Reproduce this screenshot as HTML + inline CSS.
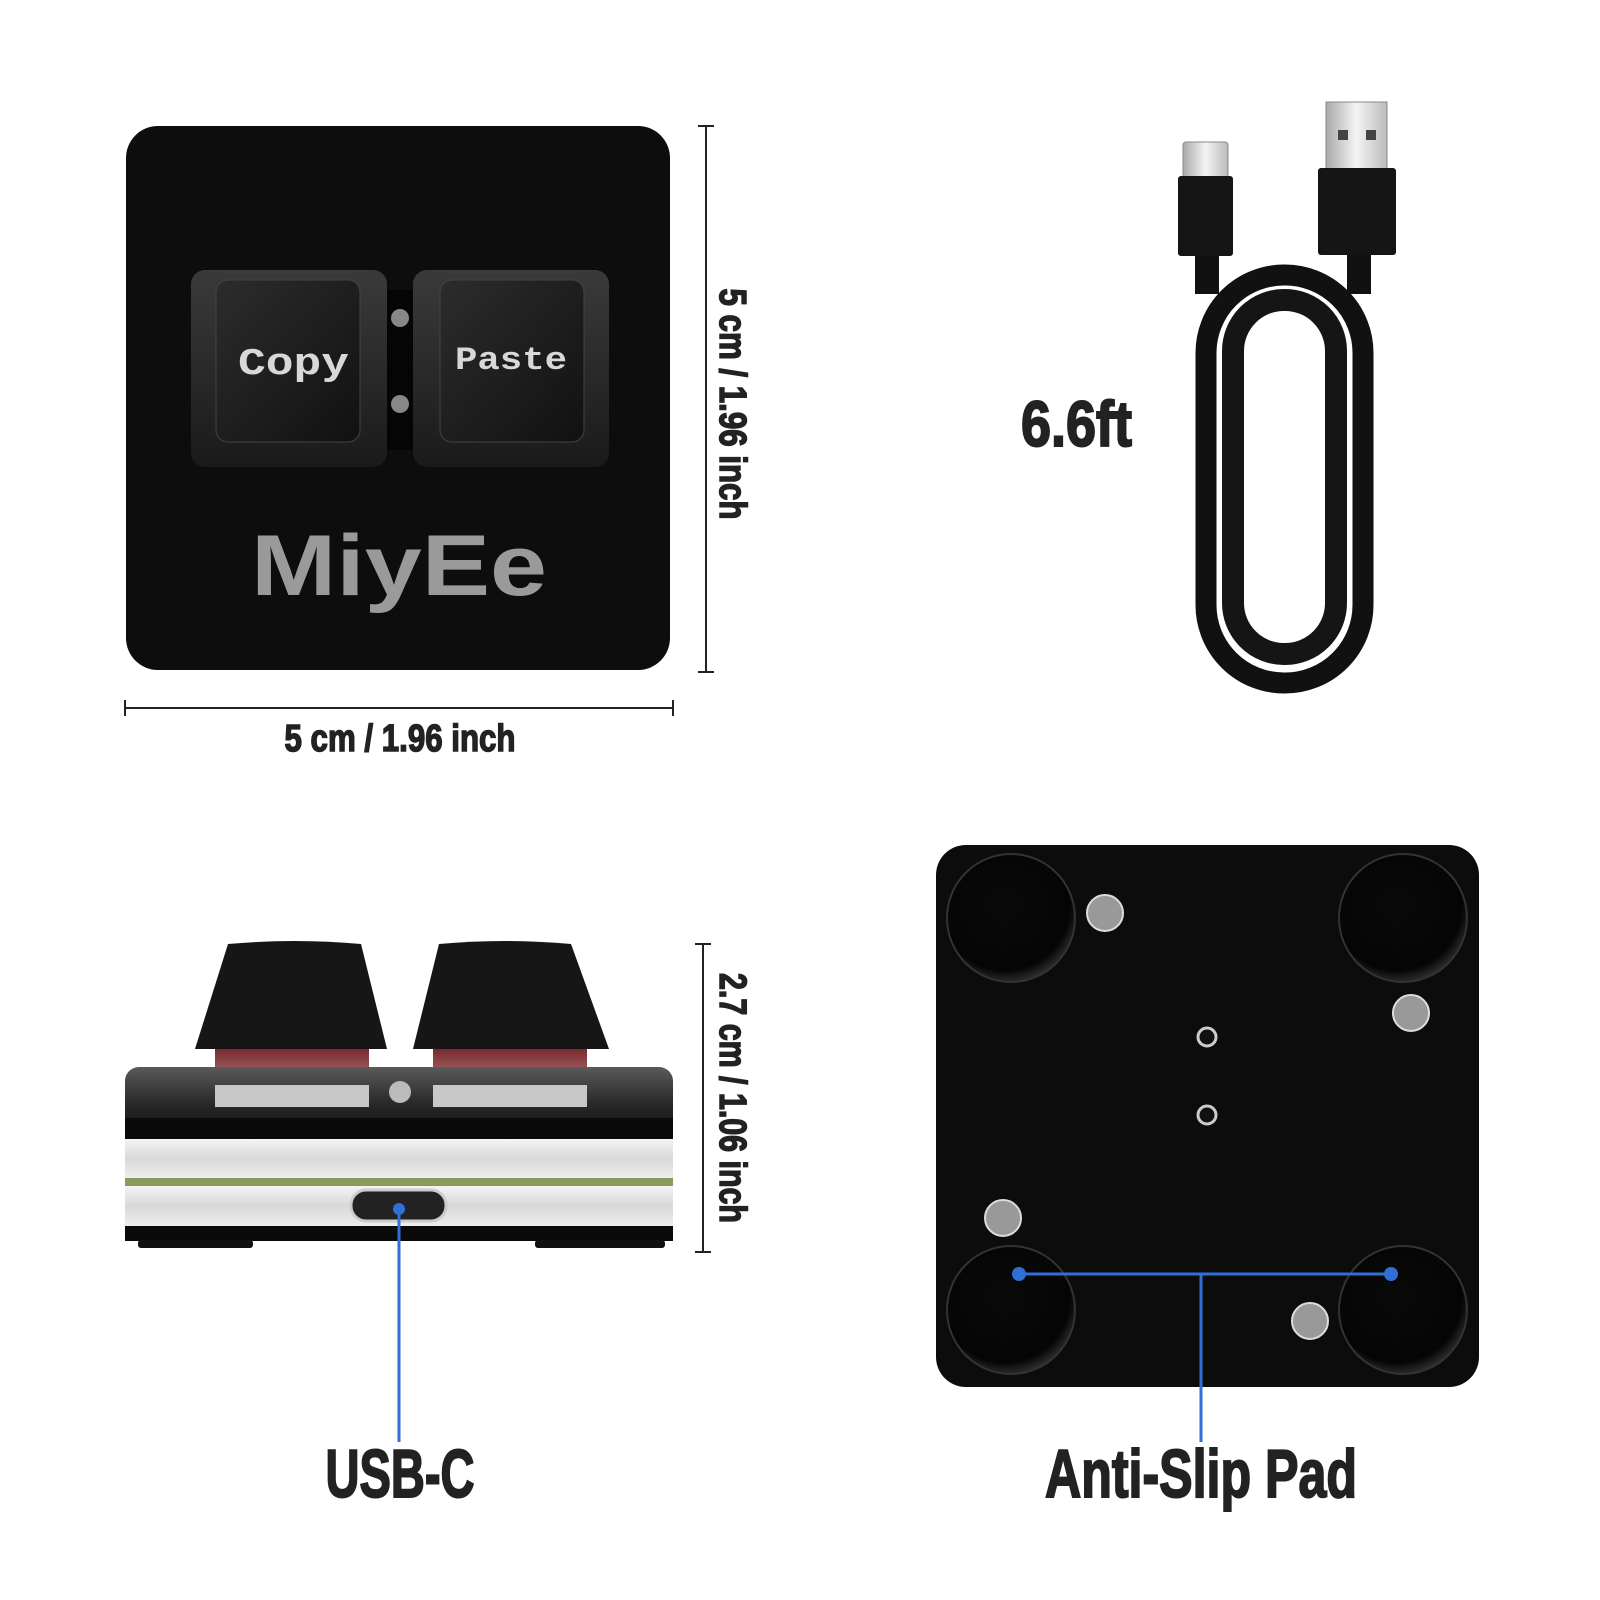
<!DOCTYPE html>
<html><head><meta charset="utf-8"><style>html,body{margin:0;padding:0;background:#fff;}svg{display:block}</style></head>
<body>
<svg width="1600" height="1600" viewBox="0 0 1600 1600" xmlns="http://www.w3.org/2000/svg">
<defs>
<linearGradient id="kc" x1="0" y1="0" x2="0" y2="1"><stop offset="0" stop-color="#3a3a3a"/><stop offset="1" stop-color="#1a1a1a"/></linearGradient>
<linearGradient id="kt" x1="0" y1="0" x2="1" y2="1"><stop offset="0" stop-color="#2c2c2c"/><stop offset="1" stop-color="#111"/></linearGradient>
<linearGradient id="plate" x1="0" y1="0" x2="0" y2="1"><stop offset="0" stop-color="#5a5a5a"/><stop offset="0.5" stop-color="#2a2a2a"/><stop offset="1" stop-color="#0a0a0a"/></linearGradient>
<linearGradient id="clear" x1="0" y1="0" x2="0" y2="1"><stop offset="0" stop-color="#f4f4f4"/><stop offset="0.5" stop-color="#d8d8d8"/><stop offset="1" stop-color="#eeeeee"/></linearGradient>
<linearGradient id="red" x1="0" y1="0" x2="0" y2="1"><stop offset="0" stop-color="#7a2a2e"/><stop offset="1" stop-color="#c8a0a0"/></linearGradient>
<linearGradient id="metal" x1="0" y1="0" x2="1" y2="0"><stop offset="0" stop-color="#aaa"/><stop offset="0.5" stop-color="#f4f4f4"/><stop offset="1" stop-color="#bbb"/></linearGradient>
<radialGradient id="foot" cx="0.45" cy="0.4" r="0.6"><stop offset="0" stop-color="#0a0a0a"/><stop offset="0.85" stop-color="#050505"/><stop offset="1" stop-color="#2a2a2a"/></radialGradient>
</defs>

<rect x="126" y="126" width="544" height="544" rx="32" fill="#0d0d0d"/>
<rect x="191" y="270" width="196" height="197" rx="14" fill="url(#kc)"/>
<rect x="216" y="280" width="144" height="162" rx="12" fill="url(#kt)" stroke="#444" stroke-width="1"/>
<rect x="413" y="270" width="196" height="197" rx="14" fill="url(#kc)"/>
<rect x="440" y="280" width="144" height="162" rx="12" fill="url(#kt)" stroke="#444" stroke-width="1"/>
<rect x="387" y="290" width="26" height="160" fill="#050505"/>
<circle cx="400" cy="318" r="9" fill="#888"/><circle cx="400" cy="404" r="9" fill="#888"/>
<text x="238" y="374" textLength="111" lengthAdjust="spacingAndGlyphs" font-family="Liberation Mono" font-weight="bold" font-size="38" fill="#d8d8d8">Copy</text>
<text x="455" y="369" textLength="112" lengthAdjust="spacingAndGlyphs" font-family="Liberation Mono" font-weight="bold" font-size="32" fill="#d8d8d8">Paste</text>
<text x="251" y="595" textLength="296" lengthAdjust="spacingAndGlyphs" font-family="Liberation Sans" font-weight="bold" font-size="86" fill="#9a9a9a">MiyEe</text>

<g stroke="#222" stroke-width="2">
<line x1="706" y1="126" x2="706" y2="672"/><line x1="698" y1="126" x2="714" y2="126"/><line x1="698" y1="672" x2="714" y2="672"/>
<line x1="125" y1="708" x2="673" y2="708"/><line x1="125" y1="700" x2="125" y2="716"/><line x1="673" y1="700" x2="673" y2="716"/>
</g>
<g font-family="Liberation Sans" font-weight="bold" fill="#222" stroke="#222" stroke-width="1.5">
<text x="400" y="751" text-anchor="middle" textLength="231" lengthAdjust="spacingAndGlyphs" font-size="38">5 cm / 1.96 inch</text>
<text transform="translate(720,404) rotate(90)" text-anchor="middle" textLength="231" lengthAdjust="spacingAndGlyphs" font-size="38">5 cm / 1.96 inch</text>
<text transform="translate(720,1098) rotate(90)" text-anchor="middle" textLength="250" lengthAdjust="spacingAndGlyphs" font-size="38">2.7 cm / 1.06 inch</text>
<text x="1021" y="446" textLength="111" lengthAdjust="spacingAndGlyphs" font-size="64" stroke-width="2">6.6ft</text>
<text x="400" y="1497" text-anchor="middle" textLength="149" lengthAdjust="spacingAndGlyphs" font-size="68" stroke-width="2">USB-C</text>
<text x="1201" y="1497" text-anchor="middle" textLength="312" lengthAdjust="spacingAndGlyphs" font-size="68" stroke-width="2">Anti-Slip Pad</text>
</g>

<rect x="1206" y="275" width="157" height="408" rx="78" fill="none" stroke="#111" stroke-width="21"/>
<rect x="1233" y="300" width="103" height="354" rx="51" fill="none" stroke="#151515" stroke-width="22"/>
<rect x="1195" y="254" width="24" height="40" fill="#111"/>
<rect x="1347" y="254" width="24" height="40" fill="#111"/>
<rect x="1183" y="142" width="45" height="36" rx="3" fill="url(#metal)" stroke="#888"/>
<rect x="1178" y="176" width="55" height="80" rx="3" fill="#151515"/>
<rect x="1326" y="102" width="61" height="68" fill="url(#metal)" stroke="#888"/>
<rect x="1338" y="130" width="10" height="10" fill="#444"/><rect x="1366" y="130" width="10" height="10" fill="#444"/>
<rect x="1318" y="168" width="78" height="87" rx="3" fill="#151515"/>

<path d="M228 944 Q295 938 361 944 L387 1049 L195 1049 Z" fill="#161616"/>
<path d="M439 944 Q505 938 571 944 L609 1049 L413 1049 Z" fill="#161616"/>
<rect x="215" y="1049" width="154" height="54" fill="url(#red)"/>
<rect x="433" y="1049" width="154" height="54" fill="url(#red)"/>
<rect x="125" y="1067" width="548" height="72" rx="14" fill="url(#plate)"/>
<rect x="215" y="1085" width="154" height="22" fill="#c8c8c8"/>
<rect x="433" y="1085" width="154" height="22" fill="#c8c8c8"/>
<circle cx="400" cy="1092" r="11" fill="#bbb"/>
<rect x="125" y="1118" width="548" height="21" fill="#0a0a0a"/>
<rect x="125" y="1139" width="548" height="39" fill="url(#clear)"/>
<rect x="125" y="1178" width="548" height="8" fill="#8a9a5a"/>
<rect x="125" y="1186" width="548" height="40" fill="url(#clear)"/>
<rect x="125" y="1226" width="548" height="15" fill="#0a0a0a"/>
<rect x="138" y="1240" width="115" height="8" rx="3" fill="#111"/>
<rect x="535" y="1240" width="130" height="8" rx="3" fill="#111"/>
<rect x="351" y="1190" width="95" height="31" rx="15" fill="#222" stroke="#ccc" stroke-width="3"/>
<g stroke="#222" stroke-width="2">
<line x1="703" y1="944" x2="703" y2="1252"/><line x1="695" y1="944" x2="711" y2="944"/><line x1="695" y1="1252" x2="711" y2="1252"/>
</g>
<line x1="399" y1="1209" x2="399" y2="1442" stroke="#2f6fd6" stroke-width="3"/>
<circle cx="399" cy="1209" r="6" fill="#2f6fd6"/>

<g transform="translate(-5,-5)">
<rect x="941" y="850" width="543" height="542" rx="30" fill="#0c0c0c"/>
<g stroke="#333" stroke-width="2" fill="url(#foot)">
<circle cx="1016" cy="923" r="64"/><circle cx="1408" cy="923" r="64"/>
<circle cx="1016" cy="1315" r="64"/><circle cx="1408" cy="1315" r="64"/>
</g>
<g fill="#999" stroke="#ddd" stroke-width="2">
<circle cx="1110" cy="918" r="18"/><circle cx="1416" cy="1018" r="18"/>
<circle cx="1008" cy="1223" r="18"/><circle cx="1315" cy="1326" r="18"/>
</g>
<g fill="#111" stroke="#ccc" stroke-width="3">
<circle cx="1212" cy="1042" r="9"/><circle cx="1212" cy="1120" r="9"/>
</g>
<g stroke="#2f6fd6" stroke-width="3">
<line x1="1024" y1="1279" x2="1396" y2="1279"/>
<line x1="1206" y1="1279" x2="1206" y2="1447"/>
</g>
<circle cx="1024" cy="1279" r="7" fill="#2f6fd6"/><circle cx="1396" cy="1279" r="7" fill="#2f6fd6"/>
</g>
</svg>
</body></html>
